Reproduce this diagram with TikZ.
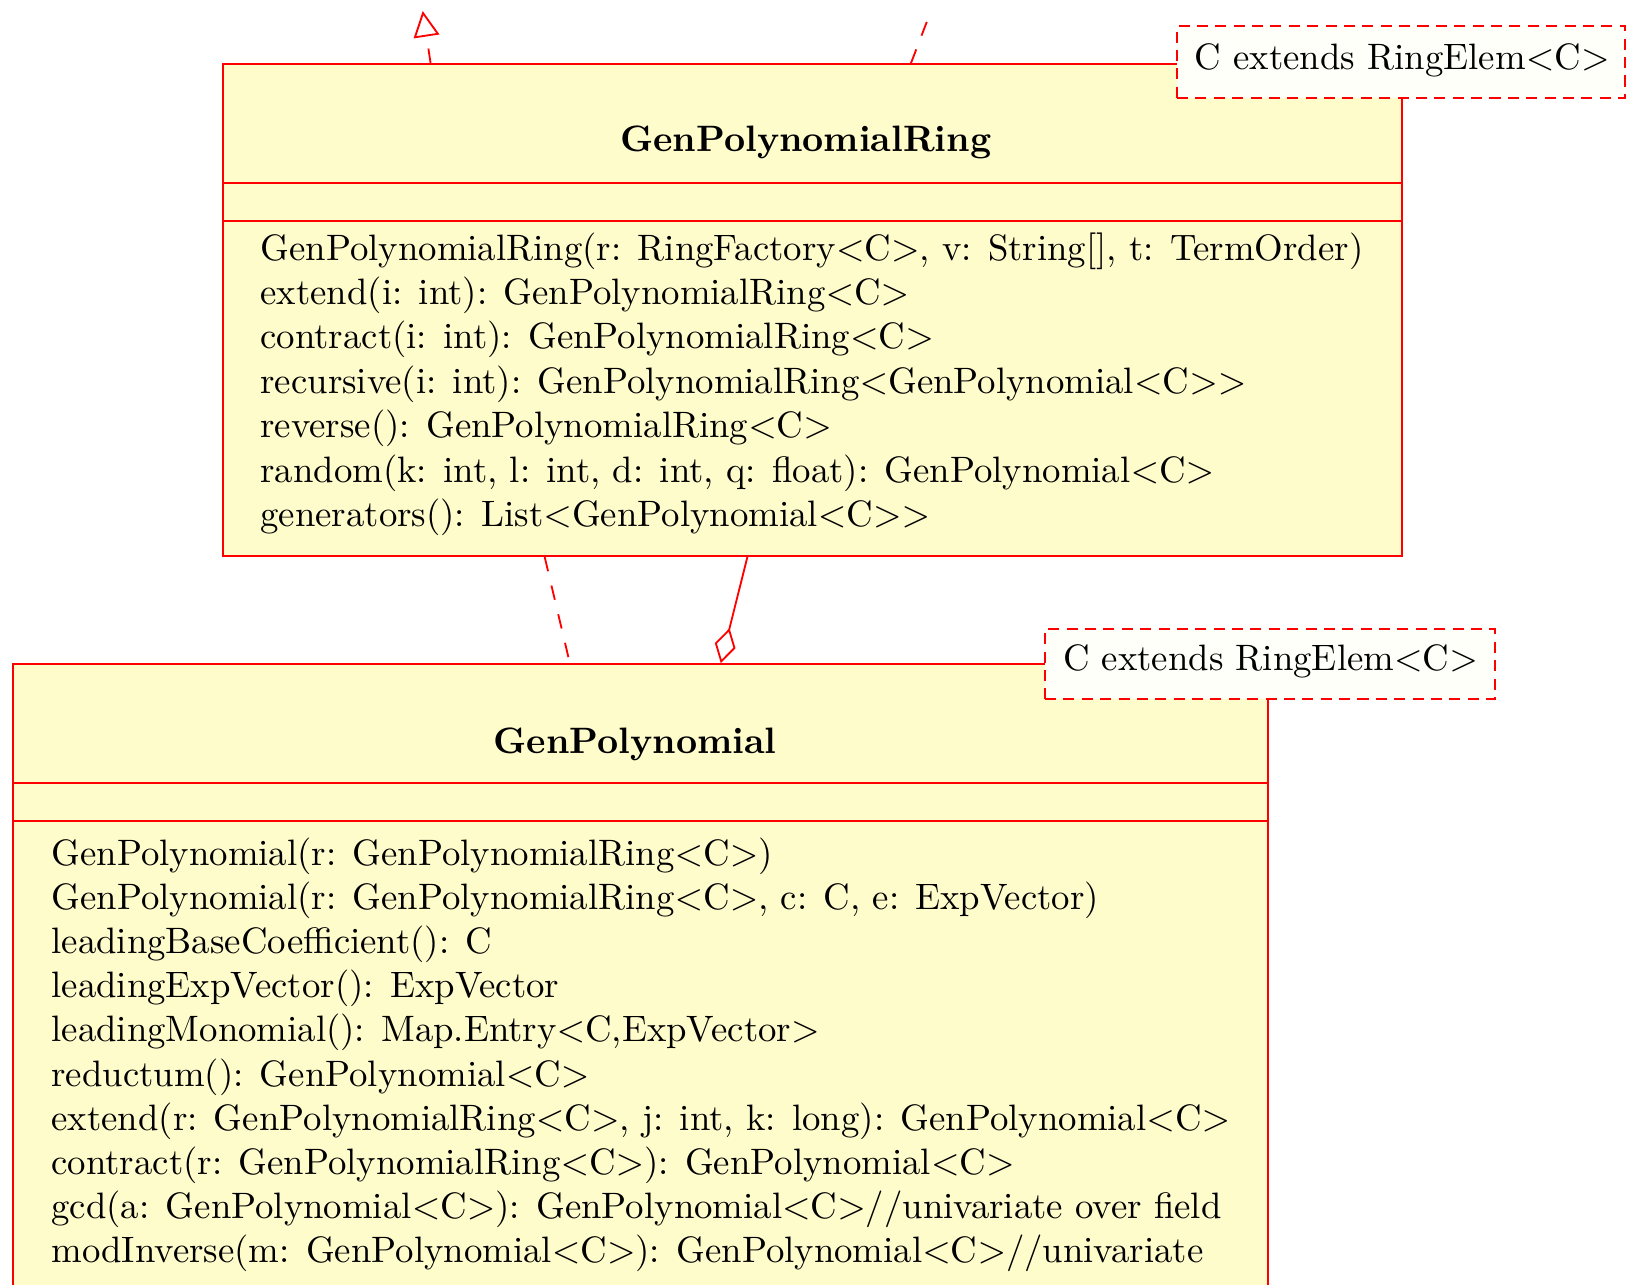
\documentclass[tikz,border=0pt]{standalone}
\usetikzlibrary{arrows.meta,fit,calc}
\newcommand{\lt}{$<$}
\newcommand{\gt}{$>$}
\begin{document}
\begin{tikzpicture}[x=0.27204pt,y=-0.27204pt,
  umlline/.style={draw=red, line width=0.5pt},
  classbox/.style={draw=red, line width=0.5pt, fill=yellow!20, inner sep=0pt},
  tmplbox/.style={draw=red, line width=0.5pt, dash pattern=on 3pt off 2pt, fill=yellow!2, inner sep=0pt},
  member/.style={anchor=base west, inner sep=0pt, font=\fontsize{10}{12}\selectfont},
  classtitle/.style={anchor=base, inner sep=0pt, font=\fontsize{10}{12}\selectfont\bfseries},
  dashline/.style={draw=red, line width=0.5pt, dash pattern=on 4pt off 4pt}]
\clip (0,0) rectangle (1626,1284);
\fill[white] (0,0) rectangle (1626,1284);

% GenPolynomialRing class
\coordinate (r1) at (222.7,64);
\coordinate (r2) at (1402,556);
\node[classbox, fit=(r1)(r2)] (ring) {};
\draw[umlline] ($(ring.north west)+(0,120)$) -- ($(ring.north east)+(0,120)$);
\draw[umlline] ($(ring.north west)+(0,157.7)$) -- ($(ring.north east)+(0,157.7)$);
\node[classtitle] (ringname) at ($(ring.north west)+(584,88.5)$) {GenPolynomialRing};
\foreach \t [count=\i from 0] in {
  {GenPolynomialRing(r: RingFactory\lt C\gt, v: String[], t: TermOrder)},
  {extend(i: int): GenPolynomialRing\lt C\gt},
  {contract(i: int): GenPolynomialRing\lt C\gt},
  {recursive(i: int): GenPolynomialRing\lt GenPolynomial\lt C\gt\gt},
  {reverse(): GenPolynomialRing\lt C\gt},
  {random(k: int, l: int, d: int, q: float): GenPolynomial\lt C\gt},
  {generators(): List\lt GenPolynomial\lt C\gt\gt}}
  \node[member] (ringm\i) at ($(ring.north west)+(38,197+44.4*\i)$) {\t};

% GenPolynomial class
\coordinate (p1) at (12.7,664);
\coordinate (p2) at (1268,1310);
\node[classbox, fit=(p1)(p2)] (poly) {};
\draw[umlline] ($(poly.north west)+(0,120)$) -- ($(poly.north east)+(0,120)$);
\draw[umlline] ($(poly.north west)+(0,157.7)$) -- ($(poly.north east)+(0,157.7)$);
\node[classtitle] (polyname) at ($(poly.north west)+(623.3,90.3)$) {GenPolynomial};
\foreach \t [count=\i from 0] in {
  {GenPolynomial(r: GenPolynomialRing\lt C\gt)},
  {GenPolynomial(r: GenPolynomialRing\lt C\gt, c: C, e: ExpVector)},
  {leadingBaseCoefficient(): C},
  {leadingExpVector(): ExpVector},
  {leadingMonomial(): Map.Entry\lt C,ExpVector\gt},
  {reductum(): GenPolynomial\lt C\gt},
  {extend(r: GenPolynomialRing\lt C\gt, j: int, k: long): GenPolynomial\lt C\gt},
  {contract(r: GenPolynomialRing\lt C\gt): GenPolynomial\lt C\gt},
  {gcd(a: GenPolynomial\lt C\gt): GenPolynomial\lt C\gt//univariate over field},
  {modInverse(m: GenPolynomial\lt C\gt): GenPolynomial\lt C\gt//univariate}}
  \node[member] (polym\i) at ($(poly.north west)+(39,202+44.2*\i)$) {\t};

% template boxes
\coordinate (t1a) at (1177,25.7);
\coordinate (t1b) at (1625,98);
\node[tmplbox, fit=(t1a)(t1b)] (tmplring) {};
\node[member] (tmplringtext) at ($(tmplring.north west)+(18,44.3)$) {C extends RingElem\lt C\gt};
\coordinate (t2a) at (1045,629);
\coordinate (t2b) at (1495,699);
\node[tmplbox, fit=(t2a)(t2b)] (tmplpoly) {};
\node[member] (tmplpolytext) at ($(tmplpoly.north west)+(18.3,42.7)$) {C extends RingElem\lt C\gt};

% connectors
\coordinate (tipA) at (422.7,11);
\draw[dashline, -{Triangle[open, length=7pt, width=7pt]}] ($(ring.north west)+(208.8,0)$) -- (tipA);
\coordinate (offB) at (927.5,20);
\draw[dashline] ($(ring.north west)+(689.2,0)$) -- (offB);
\draw[dashline] ($(ring.south west)+(322.9,0)$) -- ($(poly.north west)+(558,0)$);
\draw[umlline, -{Diamond[open, length=9.8pt, width=5.8pt]}] ($(ring.south west)+(525.6,0)$) -- ($(poly.north west)+(709,0)$);
\end{tikzpicture}
\end{document}
